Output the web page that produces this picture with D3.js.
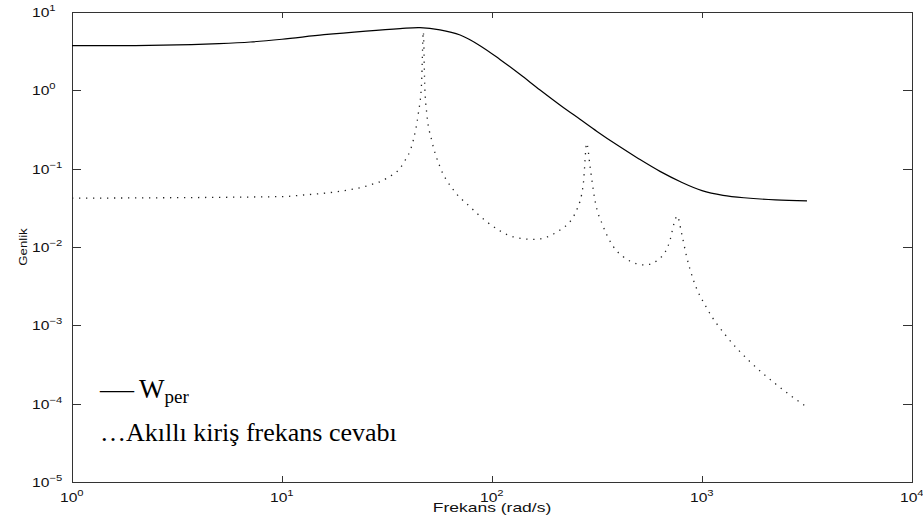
<!DOCTYPE html>
<html>
<head>
<meta charset="utf-8">
<script src="https://cdn.jsdelivr.net/npm/d3@7/dist/d3.min.js"></script>
<style>
  body { margin: 0; background: #fff; }
  svg { display: block; }
  .ax path, .ax line { stroke: #333; stroke-width: 1; shape-rendering: crispEdges; }
</style>
</head>
<body>
<svg id="chart" width="923" height="528"></svg>
<script>
// decade ticks
var xTicks = [1, 10, 100, 1000, 10000];
var yTicks = [1e-5, 1e-4, 1e-3, 1e-2, 1e-1, 1, 10];
var xExp = ["0", "1", "2", "3", "4"];
var yExp = ["\u22125", "\u22124", "\u22123", "\u22122", "\u22121", "0", "1"];

// W_per (solid)
var wperFreq = [1, 2, 3.16, 5.01, 7.08, 10, 15.85, 25.1, 36.5, 45.4, 56.5, 70.5, 87.7, 109.1, 135.8, 169.4,
  213.8, 262.4, 316.2, 398.1, 501.2, 631, 794.3, 1000, 1259, 1585, 2239, 3162];
var wperMag = [3.72, 3.73, 3.80, 3.95, 4.14, 4.49, 5.13, 5.71, 6.14, 6.31, 5.92, 5.08, 3.72, 2.48, 1.60, 1.01,
  0.631, 0.427, 0.299, 0.197, 0.133, 0.0923, 0.0676, 0.0525, 0.0457, 0.0425, 0.040, 0.0389];

// Akilli kiris frekans cevabi (dotted)
var beamFreq = [1, 10, 12.65, 18.2, 26.2, 31.5, 37.8, 42.2, 44.6, 46.2, 47.1, 47.8, 48.9, 51.6, 56.5, 65.5, 78.5, 94.4,
  126.5, 157.4, 210.9, 252.9, 272.3, 282.5, 293.1, 309, 338.8, 378.4, 421.7, 453.9, 535.8, 631, 704.7, 736.2, 762.1,
  799.8, 845.3, 909.9, 1059, 1300, 1675, 2244, 3162];
var beamMag = [0.042, 0.044, 0.0461, 0.0508, 0.0618, 0.0753, 0.117, 0.232, 0.509, 1.23, 5.6, 1.23, 0.509, 0.232, 0.106, 0.0535, 0.0327, 0.021,
  0.0135, 0.0125, 0.0165, 0.0296, 0.065, 0.211, 0.106, 0.0398, 0.0182, 0.0101, 0.0075, 0.0066, 0.0059, 0.0072, 0.0123, 0.02, 0.0249,
  0.0149, 0.0075, 0.0038, 0.00162, 0.000738, 0.000353, 0.000178, 0.00009];

var svg = d3.select("#chart");
var plotL = 72, plotR = 912, plotT = 12, plotB = 482;

var x = d3.scaleLog().domain([1, 1e4]).range([plotL, plotR]);
var y = d3.scaleLog().domain([1e-5, 10]).range([plotB, plotT]);

// box + inward ticks on all four sides
svg.append("g").attr("class", "ax").attr("transform", "translate(0," + plotB + ")")
  .call(d3.axisBottom(x).tickValues(xTicks).tickSizeInner(-6).tickSizeOuter(0).tickFormat(""));
svg.append("g").attr("class", "ax").attr("transform", "translate(0," + plotT + ")")
  .call(d3.axisTop(x).tickValues(xTicks).tickSizeInner(-6).tickSizeOuter(0).tickFormat(""));
svg.append("g").attr("class", "ax").attr("transform", "translate(" + plotL + ",0)")
  .call(d3.axisLeft(y).tickValues(yTicks).tickSizeInner(-9).tickSizeOuter(0).tickFormat(""));
svg.append("g").attr("class", "ax").attr("transform", "translate(" + plotR + ",0)")
  .call(d3.axisRight(y).tickValues(yTicks).tickSizeInner(-9).tickSizeOuter(0).tickFormat(""));

// tick labels "10^n", slightly stretched sideways like the original
function powerLabel(px, py, exp) {
  var g = svg.append("g").attr("transform", "translate(" + px + "," + py + ") scale(1.25,1)");
  var t = g.append("text").attr("font-family", "Liberation Sans, Arial, sans-serif")
    .attr("font-size", 12.5).attr("fill", "#111");
  t.append("tspan").text("10");
  t.append("tspan").attr("dy", -6).attr("font-size", 9).text(exp);
}
xTicks.forEach(function (d, i) { powerLabel(x(d) - 12, 502, xExp[i]); });
yTicks.forEach(function (d, i) { powerLabel(32, y(d) + 5, yExp[i]); });

// axis titles
svg.append("g").attr("transform", "translate(" + ((plotL + plotR) / 2) + ",512) scale(1.4,1)")
  .append("text").attr("text-anchor", "middle")
  .attr("font-family", "Liberation Sans, Arial, sans-serif").attr("font-size", 12.5).attr("fill", "#111")
  .text("Frekans (rad/s)");
svg.append("g").attr("transform", "translate(27,247) rotate(-90) scale(1.15,1)")
  .append("text").attr("text-anchor", "middle")
  .attr("font-family", "Liberation Sans, Arial, sans-serif").attr("font-size", 11.5).attr("fill", "#111")
  .text("Genlik");

var wperLine = d3.line().curve(d3.curveCatmullRom.alpha(0.5));
var beamLine = d3.line().curve(d3.curveMonotoneX);

var wperPts = wperFreq.map(function (f, i) { return [x(f), y(wperMag[i])]; });
svg.append("path").attr("d", wperLine(wperPts))
  .attr("fill", "none").attr("stroke", "#000").attr("stroke-width", 1.2);

var beamPts = beamFreq.map(function (f, i) { return [x(f), y(beamMag[i])]; });
svg.append("path").attr("d", beamLine(beamPts))
  .attr("fill", "none").attr("stroke", "#222").attr("stroke-width", 1.3)
  .attr("stroke-dasharray", "1.3,5.7");

// legend text (as in the figure, plain text lines)
var leg = svg.append("g").attr("font-family", "Liberation Serif, Times New Roman, serif").attr("fill", "#000");
leg.append("text").attr("x", 100).attr("y", 398).attr("font-size", 27)
  .attr("textLength", 34).attr("lengthAdjust", "spacingAndGlyphs").text("\u2014");
var l1 = leg.append("text").attr("x", 139).attr("y", 398).attr("font-size", 27);
l1.append("tspan").text("W");
l1.append("tspan").attr("dy", 5).attr("font-size", 19).text("per");
leg.append("text").attr("x", 100).attr("y", 441).attr("font-size", 26)
  .text("\u2026Ak\u0131ll\u0131 kiri\u015f frekans cevab\u0131");
</script>
</body>
</html>
